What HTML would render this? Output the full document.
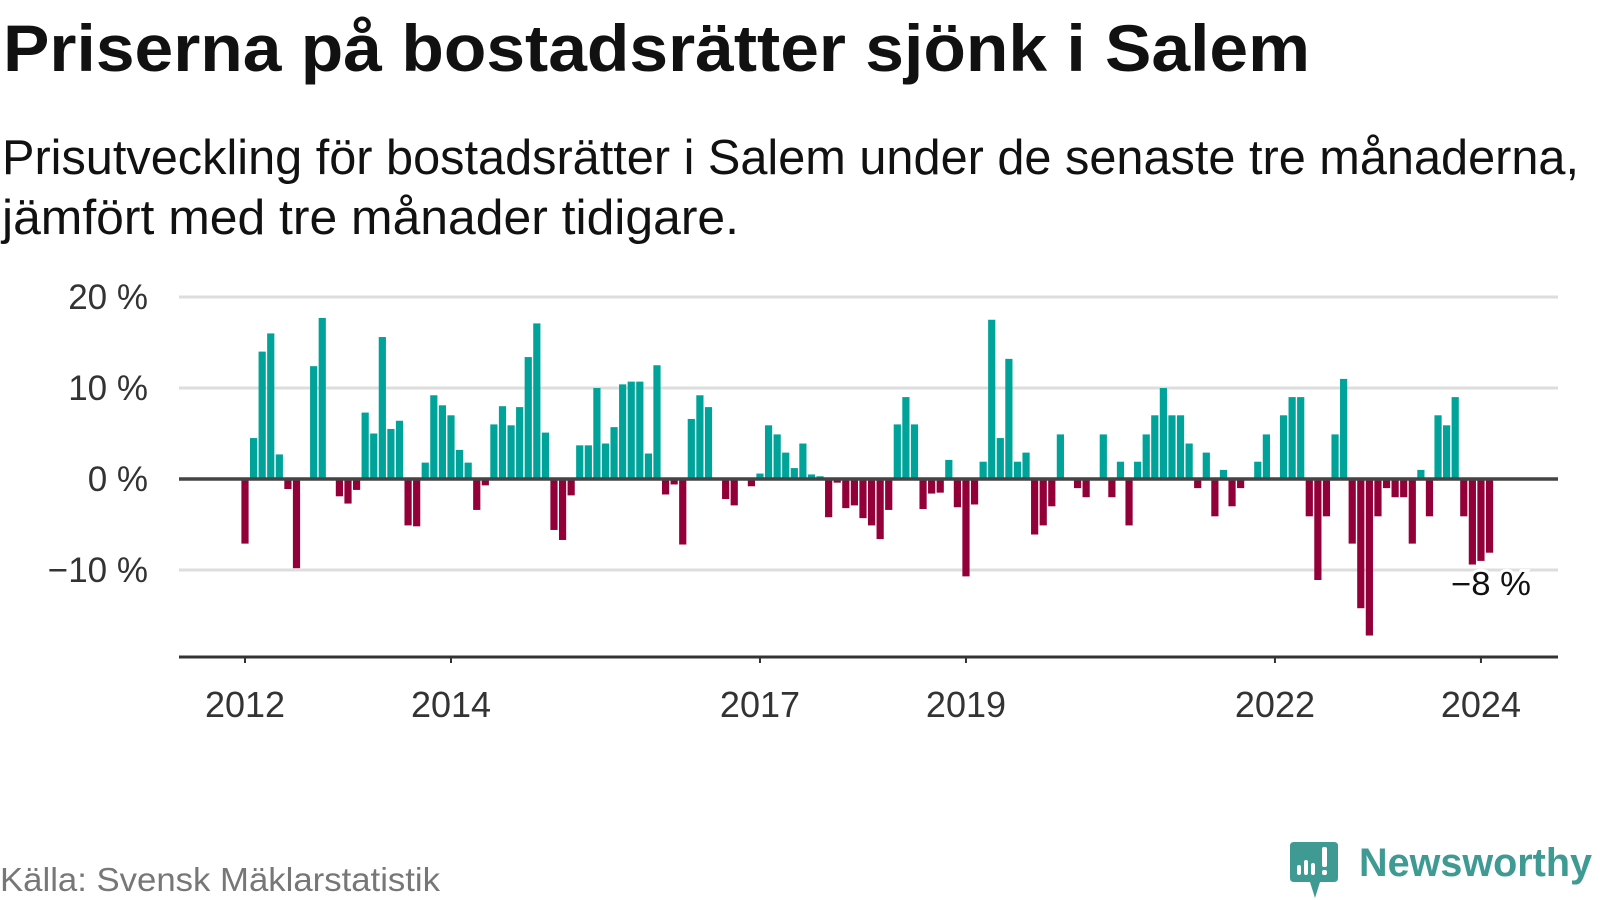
<!DOCTYPE html>
<html><head><meta charset="utf-8">
<style>
html,body{margin:0;padding:0;background:#fff;}
svg{display:block;font-family:"Liberation Sans",sans-serif;}
</style></head>
<body>
<svg width="1600" height="900" viewBox="0 0 1600 900">
<text x="3" y="71" font-size="66" font-weight="bold" fill="#111" textLength="1307" lengthAdjust="spacingAndGlyphs">Priserna på bostadsrätter sjönk i Salem</text>
<text x="2" y="174" font-size="49" fill="#111" textLength="1577" lengthAdjust="spacingAndGlyphs">Prisutveckling för bostadsrätter i Salem under de senaste tre månaderna,</text>
<text x="2" y="234" font-size="49" fill="#111" textLength="737" lengthAdjust="spacingAndGlyphs">jämfört med tre månader tidigare.</text>
<g id="grid"></g>
<g id="bars"></g>
<g id="axes"></g>
<text x="1451" y="595" font-size="33" fill="#111" stroke="#fff" stroke-width="6" paint-order="stroke" textLength="80" lengthAdjust="spacingAndGlyphs">−8 %</text>
<text x="0" y="891" font-size="33" fill="#777" textLength="440" lengthAdjust="spacingAndGlyphs">Källa: Svensk Mäklarstatistik</text>
<g>
<path d="M1294 842 H1334 Q1338 842 1338 846 V878 Q1338 882 1334 882 H1320 L1315 898 L1310 882 H1294 Q1290 882 1290 878 V846 Q1290 842 1294 842Z" fill="#3e9a93"/>
<rect x="1297" y="865" width="4" height="10" rx="2" fill="#fff"/>
<rect x="1304" y="860" width="4" height="15" rx="2" fill="#fff"/>
<rect x="1311" y="863" width="4" height="12" rx="2" fill="#fff"/>
<rect x="1322" y="847" width="5" height="20" rx="2" fill="#fff"/>
<rect x="1322" y="870" width="5" height="5" rx="2" fill="#fff"/>
<text x="1359" y="876" font-size="40" font-weight="bold" fill="#3e9a93" textLength="233" lengthAdjust="spacingAndGlyphs">Newsworthy</text>
</g>
</svg>
<script>
const startYear = 2012;
const values = [
-7.1,4.5,14,16,2.7,-1.1,-9.8,0,12.4,17.7,0,-1.9,
-2.7,-1.2,7.3,5,15.6,5.5,6.4,-5.1,-5.2,1.8,9.2,8.1,
7.0,3.2,1.8,-3.4,-0.7,6.0,8.0,5.9,7.9,13.4,17.1,5.1,
-5.6,-6.7,-1.8,3.7,3.7,10.0,3.9,5.7,10.4,10.7,10.7,2.8,
12.5,-1.7,-0.6,-7.2,6.6,9.2,7.9,0,-2.2,-2.9,0,-0.8,
0.6,5.9,4.9,2.9,1.2,3.9,0.5,0.3,-4.2,-0.4,-3.2,-2.9,
-4.3,-5.1,-6.6,-3.4,6.0,9.0,6.0,-3.3,-1.6,-1.5,2.1,-3.1,
-10.7,-2.8,1.9,17.5,4.5,13.2,1.9,2.9,-6.1,-5.1,-3.0,4.9,
0,-1.0,-2.0,0,4.9,-2.0,1.9,-5.1,1.9,4.9,7.0,10.0,
7.0,7.0,3.9,-1.0,2.9,-4.1,1.0,-3.0,-1.0,0,1.9,4.9,
0,7.0,9.0,9.0,-4.1,-11.1,-4.1,4.9,11.0,-7.1,-14.2,-17.2,
-4.1,-1.0,-2.0,-2.0,-7.1,1.0,-4.1,7.0,5.9,9.0,-4.1,-9.4,
-9.0,-8.1];
const yTicks = [20,10,0,-10];
const yTickLabels = ["20 %","10 %","0 %","−10 %"];
const xTickYears = [2012,2014,2017,2019,2022,2024];

const NS="http://www.w3.org/2000/svg";
const x0=245, monthW=8.583;
function xScale(monthIndex){return x0+monthIndex*monthW;}
function xYear(y){return xScale((y-startYear)*12);}
function yScale(v){return 479 - v*9.1;}
function mk(tag,attrs,parent){const e=document.createElementNS(NS,tag);for(const k in attrs)e.setAttribute(k,attrs[k]);parent.appendChild(e);return e;}

const grid=document.getElementById('grid');
yTicks.forEach((t,i)=>{
  if(t!==0){
    const l=mk('line',{x1:179,x2:1558,y1:yScale(t),y2:yScale(t),stroke:'#dddddd','stroke-width':3},grid);
    
    
  }
  const tx=mk('text',{x:148,y:yScale(t)+12,'font-size':35,fill:'#333','text-anchor':'end'},grid);
  tx.textContent=yTickLabels[i];
  
  
});

const bars=document.getElementById('bars');
values.forEach((v,i)=>{
  if(v===0)return;
  const cx=xScale(i);
  const y=v>0?yScale(v):yScale(0);
  const h=Math.abs(yScale(v)-yScale(0));
  const r=mk('rect',{x:cx-3.6,y:y,width:7.2,height:h,fill:v>0?'#00a399':'#930039'},bars);
  
  
});

const axes=document.getElementById('axes');
const z=mk('line',{x1:179,x2:1558,y1:yScale(0),y2:yScale(0),stroke:'#444','stroke-width':3.5},axes);


const xa=mk('line',{x1:179,x2:1558,y1:657,y2:657,stroke:'#333','stroke-width':3},axes);


xTickYears.forEach(yr=>{
  const x=xYear(yr);
  const tk=mk('line',{x1:x,x2:x,y1:657,y2:663,stroke:'#333','stroke-width':2},axes);
  
  
  const tx=mk('text',{x:x,y:717,'font-size':36,fill:'#333','text-anchor':'middle'},axes);
  tx.textContent=String(yr);
  
  
});
</script>
</body></html>
